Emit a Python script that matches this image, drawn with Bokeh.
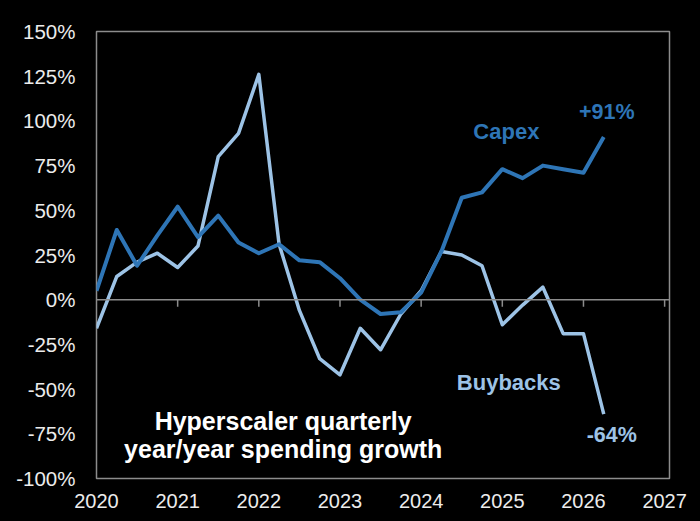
from bokeh.plotting import figure
from bokeh.models import (Range1d, FixedTicker, PrintfTickFormatter, Span, Label,
                          GlobalInlineStyleSheet, ColumnDataSource)
from bokeh.embed import file_html
from bokeh.resources import INLINE

# ---- data (quarter-end positions in decimal years, y/y growth in %) ----
quarters = [2020.0, 2020.25, 2020.5, 2020.75, 2021.0, 2021.25, 2021.5, 2021.75,
            2022.0, 2022.25, 2022.5, 2022.75, 2023.0, 2023.25, 2023.5, 2023.75,
            2024.0, 2024.25, 2024.5, 2024.75, 2025.0, 2025.25, 2025.5, 2025.75,
            2026.0, 2026.25]
capex = [5, 39, 19, 36, 52, 35, 47, 32,
         26, 31, 22, 21, 12, 0, -8, -7,
         4, 27, 57, 60, 73, 68, 75, 73,
         71, 91]
buybacks = [-16, 13, 21, 26, 18, 30, 80, 93,
            126, 31, -6, -33, -42, -16, -28, -8,
            5, 27, 25, 19, -14, -3, 7, -19,
            -19, -64]
year_ticks = [2020, 2021, 2022, 2023, 2024, 2025, 2026, 2027]
pct_ticks = [-100, -75, -50, -25, 0, 25, 50, 75, 100, 125, 150]

CAPEX_COLOR = "#2E75B6"
BUY_COLOR = "#9DC3E6"
FONT = "Liberation Sans"

p = figure(frame_width=573, frame_height=447,
           x_range=Range1d(2020, 2027.06), y_range=Range1d(-100, 150),
           output_backend="svg", toolbar_location=None,
           background_fill_color="black", border_fill_color="black",
           min_border_left=96, min_border_right=31, min_border_top=31, min_border_bottom=43)
p.stylesheets = [GlobalInlineStyleSheet(css="html, body { background: #000000; }")]

p.grid.visible = False
p.outline_line_color = "#8c8c8c"
p.outline_line_width = 1.5

# axes
p.xaxis.ticker = FixedTicker(ticks=year_ticks)
p.xaxis.axis_line_color = None
p.xaxis.major_tick_line_color = None
p.xaxis.minor_tick_line_color = None
p.xaxis.major_tick_out = 0
p.xaxis.major_tick_in = 0
p.xaxis.major_label_standoff = 15
p.xaxis.major_label_text_font = FONT
p.xaxis.major_label_text_font_size = "20px"
p.xaxis.major_label_text_color = "#ececec"

p.yaxis.ticker = FixedTicker(ticks=pct_ticks)
p.yaxis.formatter = PrintfTickFormatter(format="%d%%")
p.yaxis.axis_line_color = None
p.yaxis.major_tick_line_color = None
p.yaxis.minor_tick_line_color = None
p.yaxis.major_tick_out = 0
p.yaxis.major_tick_in = 0
p.yaxis.major_label_standoff = 21
p.yaxis.major_label_text_font = FONT
p.yaxis.major_label_text_font_size = "20.5px"
p.yaxis.major_label_text_color = "#ececec"

# zero line with tick marks hanging below it
p.add_layout(Span(location=0, dimension="width", line_color="#8c8c8c", line_width=1.5))
tick_src = ColumnDataSource(dict(x=year_ticks[1:], y0=[0] * 7, y1=[-4] * 7))
p.segment(x0="x", y0="y0", x1="x", y1="y1", source=tick_src, line_color="#8c8c8c", line_width=1.5)

# series
p.line(quarters, buybacks, line_color=BUY_COLOR, line_width=3.5, line_join="round")
p.line(quarters, capex, line_color=CAPEX_COLOR, line_width=4, line_join="round")

# annotations
def lab(x, y, text, color, size="22px", align="center", baseline="alphabetic", xo=0, yo=0):
    p.add_layout(Label(x=x, y=y, text=text, text_color=color, text_font=FONT,
                       text_font_style="bold", text_font_size=size, text_align=align,
                       text_baseline=baseline, x_offset=xo, y_offset=yo))

lab(quarters[-1], capex[-1], "+%d%%" % capex[-1], CAPEX_COLOR, size="21.5px", xo=3, yo=25)
lab(quarters[-1], buybacks[-1], "%d%%" % buybacks[-1], BUY_COLOR, size="21.5px",
    baseline="top", xo=8, yo=-9)
lab(2025.05, 90, "Capex", CAPEX_COLOR, yo=7)
lab(2025.08, -50, "Buybacks", BUY_COLOR, yo=7)
lab(2022.3, -72.5, "Hyperscaler quarterly", "white", size="25px", yo=8)
lab(2022.3, -88, "year/year spending growth", "white", size="25px", yo=8)

open("out.html", "w").write(file_html(p, INLINE))
